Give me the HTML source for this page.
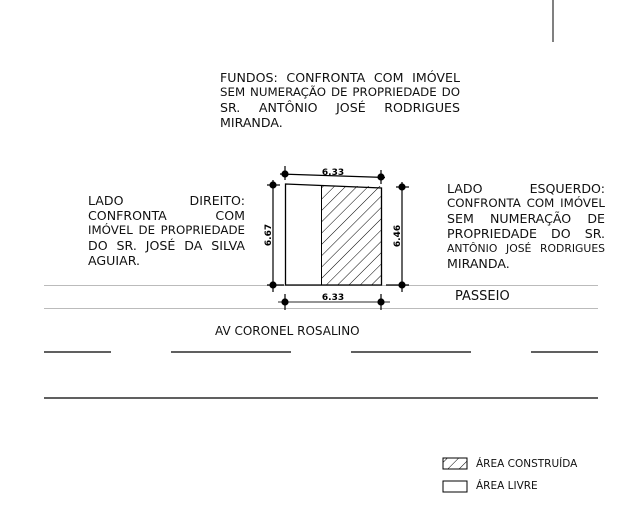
<!DOCTYPE html>
<html><head><meta charset="utf-8"><style>
body{margin:0;width:631px;height:519px;background:#fff;position:relative;overflow:hidden;font-family:"DejaVu Sans",sans-serif;color:#111}
.t{position:absolute;font-size:12.6px;line-height:15px}
.t span{display:block;text-align:justify;text-align-last:justify;white-space:nowrap}
.t span.l{text-align-last:left}
</style></head><body>
<svg width="631" height="519" style="position:absolute;left:0;top:0">
<defs><pattern id="h" width="8" height="8" patternUnits="userSpaceOnUse" patternTransform="rotate(45)"><line x1="0" y1="0" x2="0" y2="8" stroke="#000" stroke-width="1"/></pattern></defs>
<line x1="553" y1="0" x2="553" y2="42" stroke="#000"/>
<line x1="44" y1="285.5" x2="598" y2="285.5" stroke="#bbb"/>
<line x1="44" y1="308.5" x2="598" y2="308.5" stroke="#bbb"/>
<g stroke="#000" stroke-width="1.2">
<line x1="44" y1="352" x2="111" y2="352"/><line x1="171" y1="352" x2="291" y2="352"/>
<line x1="351" y1="352" x2="471" y2="352"/><line x1="531" y1="352" x2="598" y2="352"/>
<line x1="44" y1="398" x2="598" y2="398"/>
</g>
<rect x="321" y="186" width="60" height="99" fill="url(#h)"/>
<polygon points="285.5,184 381.5,188 381.5,285 285.5,285" fill="none" stroke="#000" stroke-width="1.3"/>
<line x1="321.5" y1="186" x2="321.5" y2="285" stroke="#000"/>
<g stroke="#000" stroke-width="1.2">
<line x1="280" y1="174" x2="385" y2="177.5"/><line x1="285" y1="166" x2="285" y2="180"/><line x1="381" y1="170" x2="381" y2="184"/>
<line x1="273" y1="180" x2="273" y2="292"/><line x1="267" y1="185" x2="280" y2="185"/><line x1="267" y1="285" x2="284" y2="285"/>
<line x1="402" y1="182" x2="402" y2="292"/><line x1="396" y1="187" x2="409" y2="187"/><line x1="386" y1="285" x2="409" y2="285"/>
<line x1="278" y1="302" x2="390" y2="302" stroke="#555"/><line x1="285" y1="294" x2="285" y2="310"/><line x1="381" y1="294" x2="381" y2="310"/>
</g>
<g fill="#000">
<circle cx="285" cy="174" r="3.6"/><circle cx="381" cy="177" r="3.6"/>
<circle cx="273" cy="185" r="3.6"/><circle cx="273" cy="285" r="3.6"/>
<circle cx="402" cy="187" r="3.6"/><circle cx="402" cy="285" r="3.6"/>
<circle cx="285" cy="302" r="3.6"/><circle cx="381" cy="302" r="3.6"/>
</g>
<g font-family="DejaVu Sans" font-weight="bold" font-size="9" fill="#000" text-anchor="middle">
<text x="333" y="175">6.33</text><text x="333" y="300">6.33</text>
<text transform="translate(271,235) rotate(-90)">6.67</text>
<text transform="translate(400,236) rotate(-90)">6.46</text>
</g>
<rect x="443" y="458" width="24" height="11" fill="url(#h)" stroke="#000"/>
<rect x="443" y="481" width="24" height="11" fill="none" stroke="#000"/>
</svg>
<div class="t" style="left:220px;top:70px;width:240px"><span>FUNDOS: CONFRONTA COM IMÓVEL</span><span style="font-size:11.8px">SEM NUMERAÇÃO DE PROPRIEDADE DO</span><span>SR. ANTÔNIO JOSÉ RODRIGUES</span><span class="l">MIRANDA.</span></div>
<div class="t" style="left:88px;top:193px;width:157px"><span>LADO DIREITO:</span><span>CONFRONTA COM</span><span style="font-size:11.8px">IMÓVEL DE PROPRIEDADE</span><span>DO SR. JOSÉ DA SILVA</span><span class="l">AGUIAR.</span></div>
<div class="t" style="left:447px;top:181px;width:158px"><span>LADO ESQUERDO:</span><span style="font-size:11.8px">CONFRONTA COM IMÓVEL</span><span>SEM NUMERAÇÃO DE</span><span>PROPRIEDADE DO SR.</span><span style="font-size:10.8px">ANTÔNIO JOSÉ RODRIGUES</span><span class="l">MIRANDA.</span></div>
<div style="position:absolute;left:455px;top:289px;font-size:13px">PASSEIO</div>
<div style="position:absolute;left:215px;top:324px;font-size:12px">AV CORONEL ROSALINO</div>
<div style="position:absolute;left:476px;top:458px;font-size:10.5px">ÁREA CONSTRUÍDA</div>
<div style="position:absolute;left:476px;top:480px;font-size:10.5px">ÁREA LIVRE</div>
</body></html>
